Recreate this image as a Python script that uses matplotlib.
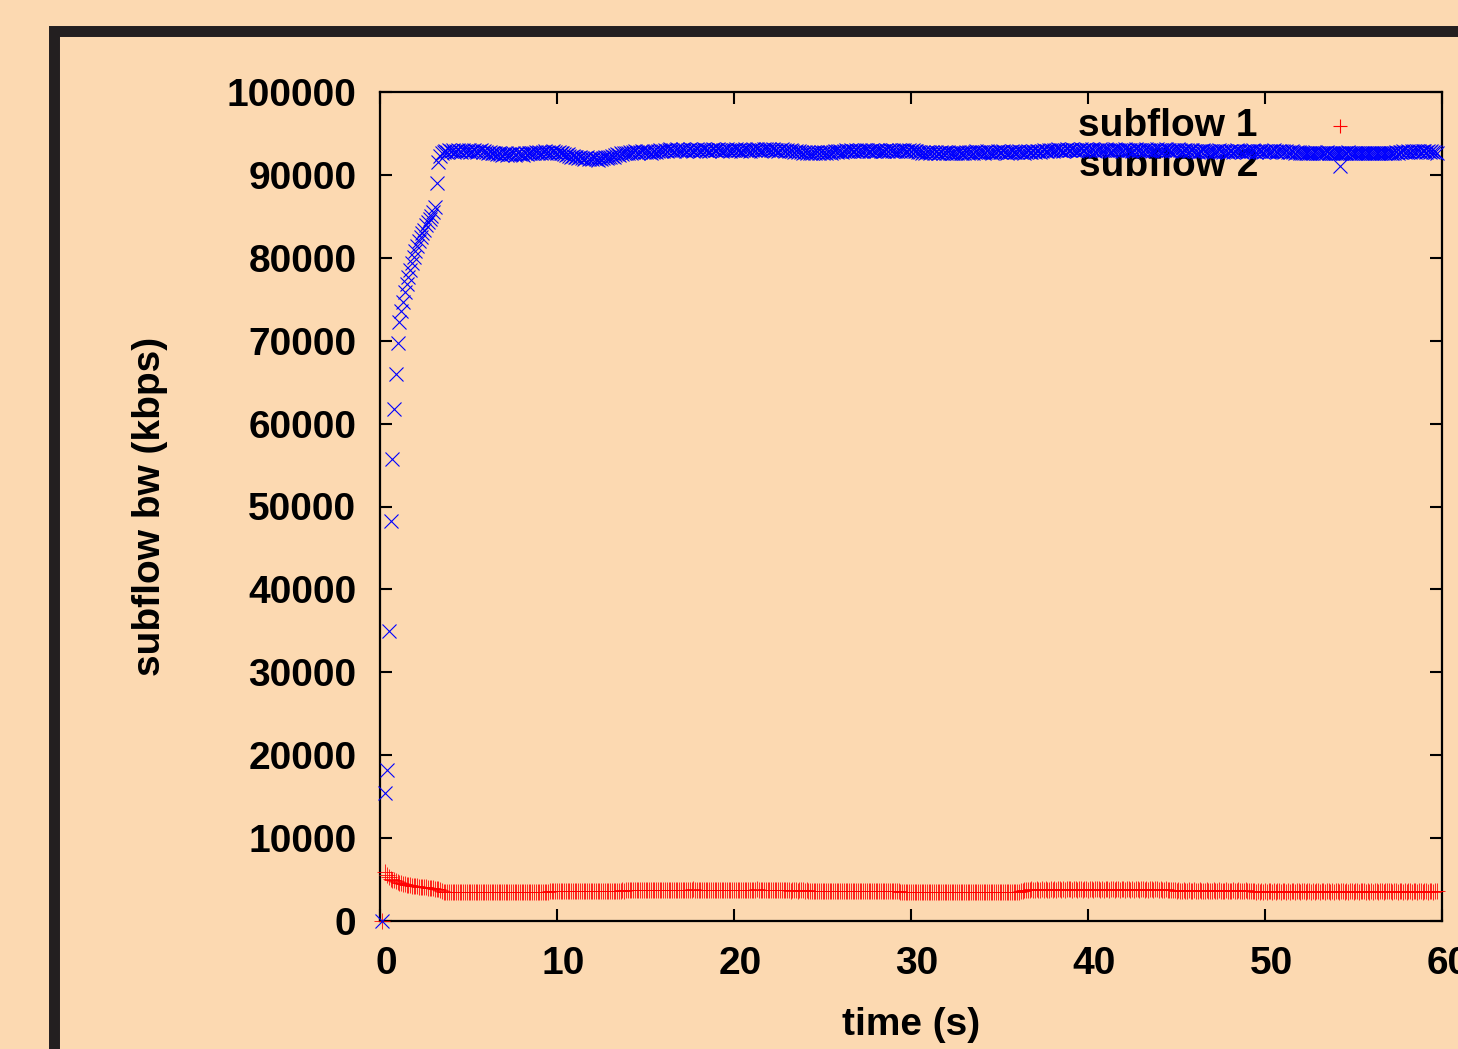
import numpy as np
import matplotlib
matplotlib.use("Agg")
import matplotlib.pyplot as plt
from matplotlib.patches import Rectangle
from matplotlib.transforms import ScaledTranslation

plt.rcParams['font.family'] = ['Liberation Sans', 'DejaVu Sans']
plt.rcParams['font.weight'] = 'bold'

# start-up phase (s)
ramp_time = [0.1, 0.3, 0.4, 0.5, 0.6, 0.7, 0.8, 0.9, 1.0, 1.1, 1.2, 1.3, 1.4, 1.5, 1.6, 1.7,
             1.8, 1.9, 2.0, 2.1, 2.2, 2.3, 2.4, 2.5, 2.6, 2.7, 2.8, 2.9, 3.0, 3.1, 3.2, 3.3]
ramp_sf1 = [0, 5900, 5600, 5300, 5100, 5000, 4900, 4800, 4700, 4600, 4550, 4500, 4450, 4400, 4350, 4300,
            4270, 4240, 4200, 4170, 4150, 4120, 4100, 4080, 4050, 4030, 4000, 3980, 3950, 3900, 3850, 3800]
ramp_sf2 = [0, 15500, 18200, 35000, 48200, 55700, 61800, 66000, 69700, 72300, 73600, 74700, 75900, 76800, 77700, 78500,
            79400, 80100, 80800, 81400, 82000, 82500, 83000, 83400, 83900, 84300, 84700, 85100, 85500, 86100, 89000, 91500]

# steady phase, one sample every 0.1 s from 3.4 s to 59.7 s
steady_time = np.arange(34, 598) / 10

steady_sf1 = [
    3700, 3600, 3550, 3550, 3500, 3550,
    3550, 3500, 3550, 3550, 3500, 3550, 3550, 3500, 3550, 3550,
    3550, 3550, 3500, 3550, 3550, 3550, 3500, 3550, 3550, 3550,
    3550, 3500, 3550, 3550, 3550, 3500, 3550, 3550, 3500, 3550,
    3550, 3550, 3500, 3550, 3550, 3550, 3500, 3550, 3550, 3500,
    3550, 3550, 3500, 3550, 3450, 3450, 3450, 3500, 3450, 3450,
    3450, 3450, 3500, 3450, 3500, 3550, 3600, 3600, 3600, 3650,
    3600, 3600, 3650, 3600, 3600, 3650, 3600, 3600, 3650, 3600,
    3600, 3650, 3600, 3600, 3650, 3600, 3600, 3650, 3600, 3650,
    3600, 3600, 3650, 3600, 3650, 3600, 3600, 3650, 3600, 3600,
    3650, 3600, 3650, 3650, 3600, 3650, 3650, 3700, 3650, 3700,
    3700, 3750, 3700, 3750, 3750, 3700, 3750, 3750, 3700, 3750,
    3750, 3700, 3750, 3750, 3750, 3700, 3750, 3750, 3700, 3750,
    3750, 3750, 3700, 3750, 3750, 3750, 3700, 3750, 3750, 3750,
    3700, 3750, 3750, 3750, 3700, 3750, 3750, 3800, 3750, 3750,
    3750, 3700, 3750, 3750, 3750, 3700, 3750, 3750, 3750, 3700,
    3750, 3750, 3700, 3750, 3750, 3750, 3700, 3750, 3750, 3750,
    3750, 3700, 3750, 3750, 3750, 3700, 3750, 3750, 3750, 3750,
    3700, 3750, 3750, 3800, 3750, 3750, 3700, 3750, 3750, 3750,
    3750, 3700, 3750, 3750, 3700, 3700, 3700, 3750, 3700, 3700,
    3700, 3700, 3650, 3700, 3700, 3700, 3650, 3700, 3700, 3700,
    3650, 3700, 3650, 3650, 3600, 3650, 3600, 3650, 3600, 3600,
    3650, 3600, 3600, 3650, 3600, 3600, 3650, 3600, 3600, 3650,
    3600, 3600, 3650, 3600, 3600, 3650, 3600, 3600, 3600, 3650,
    3600, 3650, 3600, 3600, 3650, 3600, 3600, 3650, 3600, 3600,
    3650, 3600, 3600, 3600, 3650, 3600, 3600, 3650, 3600, 3600,
    3600, 3650, 3600, 3600, 3550, 3550, 3500, 3550, 3500, 3500,
    3500, 3550, 3500, 3500, 3500, 3550, 3500, 3500, 3550, 3500,
    3500, 3500, 3550, 3500, 3500, 3500, 3550, 3500, 3500, 3500,
    3550, 3500, 3500, 3500, 3550, 3500, 3500, 3550, 3500, 3500,
    3500, 3550, 3500, 3500, 3500, 3550, 3500, 3500, 3550, 3500,
    3500, 3500, 3550, 3500, 3500, 3550, 3500, 3500, 3500, 3550,
    3500, 3500, 3550, 3500, 3500, 3500, 3550, 3500, 3500, 3550,
    3500, 3550, 3600, 3650, 3700, 3700, 3750, 3750, 3800, 3750,
    3750, 3800, 3750, 3750, 3800, 3750, 3800, 3750, 3750, 3800,
    3750, 3800, 3750, 3800, 3800, 3750, 3800, 3750, 3800, 3800,
    3800, 3750, 3800, 3800, 3750, 3800, 3800, 3750, 3800, 3800,
    3750, 3800, 3800, 3750, 3800, 3800, 3800, 3750, 3800, 3750,
    3800, 3800, 3750, 3800, 3800, 3750, 3800, 3800, 3750, 3800,
    3800, 3750, 3800, 3800, 3750, 3800, 3750, 3800, 3800, 3750,
    3800, 3800, 3750, 3800, 3750, 3800, 3800, 3750, 3800, 3800,
    3750, 3800, 3750, 3750, 3800, 3750, 3750, 3700, 3700, 3700,
    3650, 3700, 3650, 3650, 3700, 3650, 3650, 3700, 3650, 3650,
    3700, 3650, 3650, 3700, 3650, 3650, 3650, 3700, 3650, 3650,
    3650, 3700, 3650, 3650, 3700, 3650, 3650, 3650, 3700, 3650,
    3650, 3650, 3700, 3650, 3650, 3700, 3650, 3650, 3650, 3700,
    3650, 3650, 3600, 3600, 3600, 3550, 3600, 3550, 3600, 3550,
    3600, 3550, 3600, 3600, 3550, 3600, 3550, 3600, 3600, 3550,
    3600, 3600, 3550, 3600, 3550, 3600, 3600, 3550, 3600, 3600,
    3550, 3600, 3600, 3550, 3600, 3600, 3550, 3600, 3550, 3600,
    3600, 3550, 3600, 3600, 3550, 3600, 3600, 3550, 3600, 3550,
    3600, 3600, 3550, 3600, 3600, 3550, 3600, 3550, 3600, 3600,
    3550, 3600, 3600, 3550, 3600, 3600, 3600, 3550, 3600, 3550,
    3600, 3550, 3600, 3600, 3550, 3600, 3600, 3550, 3600, 3600,
    3600, 3600, 3550, 3600, 3600, 3550, 3600, 3600, 3550, 3600,
    3550, 3600, 3600, 3550, 3600, 3600, 3550, 3600, 3600, 3550,
    3600, 3600, 3550, 3600, 3600, 3550, 3600, 3600,
]

steady_sf2 = [
    92300, 92600, 92800, 92900, 92800, 93000,
    92900, 93000, 92800, 92900, 93000, 92900, 92800, 93000, 92900, 92900,
    93000, 92800, 92900, 93000, 92900, 92800, 92900, 93000, 92800, 92900,
    92800, 92700, 92800, 92600, 92700, 92600, 92500, 92600, 92500, 92400,
    92500, 92600, 92400, 92500, 92500, 92600, 92400, 92500, 92600, 92500,
    92500, 92400, 92600, 92500, 92600, 92700, 92600, 92700, 92800, 92700,
    92800, 92700, 92800, 92900, 92700, 92800, 92700, 92800, 92900, 92800,
    92700, 92800, 92700, 92600, 92500, 92400, 92500, 92300, 92200, 92300,
    92100, 92200, 92000, 92100, 92000, 91900, 92000, 92100, 91900, 92000,
    91900, 92000, 91900, 91800, 92000, 91900, 92000, 92100, 92000, 92100,
    92200, 92300, 92200, 92400, 92500, 92400, 92600, 92500, 92700, 92600,
    92700, 92800, 92700, 92800, 92900, 92800, 92700, 92800, 92900, 92800,
    92800, 92900, 92800, 92700, 92800, 92900, 92800, 92900, 93000, 92900,
    92900, 93000, 92900, 93000, 93100, 93000, 92900, 93000, 93100, 93000,
    93000, 93100, 93000, 92900, 93000, 93100, 93000, 92900, 93000, 93100,
    93000, 92900, 93000, 93100, 93000, 93000, 92900, 93000, 93100, 93000,
    93000, 93100, 93000, 92900, 93000, 93000, 93100, 93000, 92900, 93000,
    93000, 93100, 93000, 93000, 92900, 93000, 93100, 93000, 93000, 92900,
    93000, 93100, 93000, 93100, 93000, 92900, 93000, 93100, 93100, 93000,
    93100, 93000, 93100, 93000, 93000, 92900, 93000, 93100, 93000, 92900,
    93000, 92900, 93000, 92900, 92800, 92900, 92800, 92900, 92800, 92700,
    92800, 92700, 92800, 92700, 92700, 92800, 92700, 92800, 92700, 92800,
    92700, 92800, 92700, 92800, 92800, 92700, 92800, 92900, 92800, 92900,
    92900, 92800, 92900, 93000, 92900, 92900, 93000, 92900, 92900, 93000,
    92900, 93000, 92900, 92900, 93000, 93000, 92900, 92900, 93000, 92900,
    92900, 93000, 93000, 92900, 92900, 92900, 93000, 92900, 93000, 92900,
    93000, 92900, 92900, 93000, 92900, 93000, 93000, 92900, 92900, 93000,
    92900, 93000, 92900, 92900, 92800, 92800, 92700, 92800, 92700, 92800,
    92800, 92700, 92800, 92700, 92800, 92700, 92700, 92800, 92700, 92800,
    92700, 92800, 92700, 92700, 92600, 92700, 92700, 92800, 92700, 92700,
    92700, 92800, 92700, 92800, 92800, 92700, 92800, 92900, 92800, 92800,
    92800, 92700, 92800, 92900, 92800, 92800, 92700, 92800, 92800, 92900,
    92800, 92800, 92900, 92800, 92700, 92800, 92800, 92900, 92800, 92800,
    92800, 92900, 92800, 92800, 92700, 92800, 92900, 92800, 92800, 92900,
    92800, 92900, 92900, 92800, 92900, 93000, 92900, 92900, 93000, 93000,
    92900, 93000, 93000, 93100, 93000, 93000, 92900, 93000, 93100, 93000,
    93000, 93100, 93000, 93000, 92900, 93000, 93100, 93000, 93000, 93100,
    93000, 93000, 93100, 93000, 92900, 93000, 93000, 93100, 93000, 93000,
    93100, 93000, 93000, 92900, 93000, 93100, 93000, 93000, 93000, 92900,
    93000, 93100, 93000, 93000, 93000, 92900, 93000, 93100, 93000, 93000,
    93000, 92900, 93000, 93100, 93000, 93000, 92900, 93000, 93000, 93100,
    93000, 93000, 92900, 93000, 93100, 93000, 93000, 92900, 93000, 93000,
    93000, 93100, 93000, 92900, 93000, 93000, 93000, 92900, 93000, 93000,
    92900, 92900, 92800, 92900, 92900, 93000, 92900, 92800, 92900, 92900,
    92900, 92800, 92900, 92900, 93000, 92900, 92800, 92900, 92900, 92800,
    92900, 92900, 92800, 92900, 93000, 92900, 92900, 92800, 92900, 92900,
    92800, 92900, 92900, 93000, 92900, 92800, 92900, 92900, 92900, 92800,
    92900, 92900, 92800, 92900, 92900, 93000, 92900, 92800, 92900, 92900,
    92900, 92800, 92900, 92800, 92800, 92900, 92800, 92700, 92800, 92800,
    92700, 92700, 92600, 92700, 92700, 92600, 92700, 92700, 92800, 92700,
    92600, 92700, 92700, 92600, 92700, 92800, 92700, 92600, 92700, 92700,
    92700, 92600, 92700, 92700, 92600, 92700, 92700, 92800, 92700, 92600,
    92700, 92700, 92600, 92700, 92700, 92600, 92700, 92700, 92600, 92700,
    92600, 92700, 92700, 92600, 92600, 92700, 92600, 92700, 92700, 92600,
    92700, 92600, 92700, 92700, 92800, 92700, 92800, 92800, 92900, 92800,
    92800, 92900, 92800, 92900, 92900, 92800, 92900, 92900, 92800, 92900,
    92900, 92800, 92900, 92800, 92900, 92800, 92800, 92700,
]

time_s = np.concatenate([ramp_time, steady_time])
sf1 = np.concatenate([ramp_sf1, steady_sf1])
sf2 = np.concatenate([ramp_sf2, steady_sf2])

labels = ['subflow 1', 'subflow 2']
x_ticks = [0, 10, 20, 30, 40, 50, 60]
y_ticks = list(range(0, 100001, 10000))

bg = '#FCD9B1'
ink = '#000000'

fig = plt.figure(figsize=(14.58, 10.49), dpi=100, facecolor=bg)
ax = fig.add_axes([380 / 1458, 1 - 921 / 1049, 1062 / 1458, 829 / 1049])
ax.set_facecolor(bg)

# outer dark frame (only top and left edges are visible in the picture)
fig.patches.append(Rectangle((53.5 / 1458, -0.2), 1.2, 1.2 - 30.5 / 1049,
                             transform=fig.transFigure, fill=False,
                             edgecolor='#231F20', linewidth=7.9))

ax.plot(time_s, sf1, linestyle='none', marker='+', color='#FF0000',
        markersize=12, markeredgewidth=0.7, alpha=0.85, clip_on=False, zorder=3)
ax.plot(time_s, sf2, linestyle='none', marker='x', color='#0000FF',
        markersize=10.5, markeredgewidth=0.8, clip_on=False, zorder=4)

# key, drawn under the data like gnuplot does
key_x_text = (1258 - 380) / 1062
key_x_mark = (1340 - 380) / 1062
for i, (lab, mk, col) in enumerate(zip(labels, ['+', 'x'], ['#FF0000', '#0000FF'])):
    ky = (921 - (126 + 40 * i)) / 829
    ax.text(key_x_text, ky, lab, transform=ax.transAxes, ha='right', va='center',
            fontsize=28, fontweight='bold', color=ink, zorder=1)
    ax.plot([key_x_mark], [ky], transform=ax.transAxes, marker=mk, color=col,
            markersize=10.5, markeredgewidth=0.8, linestyle='none', zorder=1)

ax.set_xlim(0, 60)
ax.set_ylim(0, 100000)
ax.set_xticks(x_ticks)
ax.set_yticks(y_ticks)
ax.tick_params(direction='in', length=8.6, width=1.5, top=True, right=True,
               labelsize=28, colors=ink)
ax.tick_params(axis='x', pad=18)
ax.tick_params(axis='y', pad=17)
for lab in ax.get_xticklabels() + ax.get_yticklabels():
    lab.set_fontweight('bold')
for lab in ax.get_xticklabels():
    lab.set_transform(lab.get_transform() + ScaledTranslation(0.06, 0, fig.dpi_scale_trans))
for sp in ax.spines.values():
    sp.set_linewidth(1.6)
    sp.set_color(ink)

ax.set_xlabel('time (s)', fontsize=28, fontweight='bold', color=ink, labelpad=18)
ax.set_ylabel('subflow bw (kbps)', fontsize=28, fontweight='bold', color=ink, labelpad=42)

fig.savefig('out.png', dpi=100, facecolor=bg)
